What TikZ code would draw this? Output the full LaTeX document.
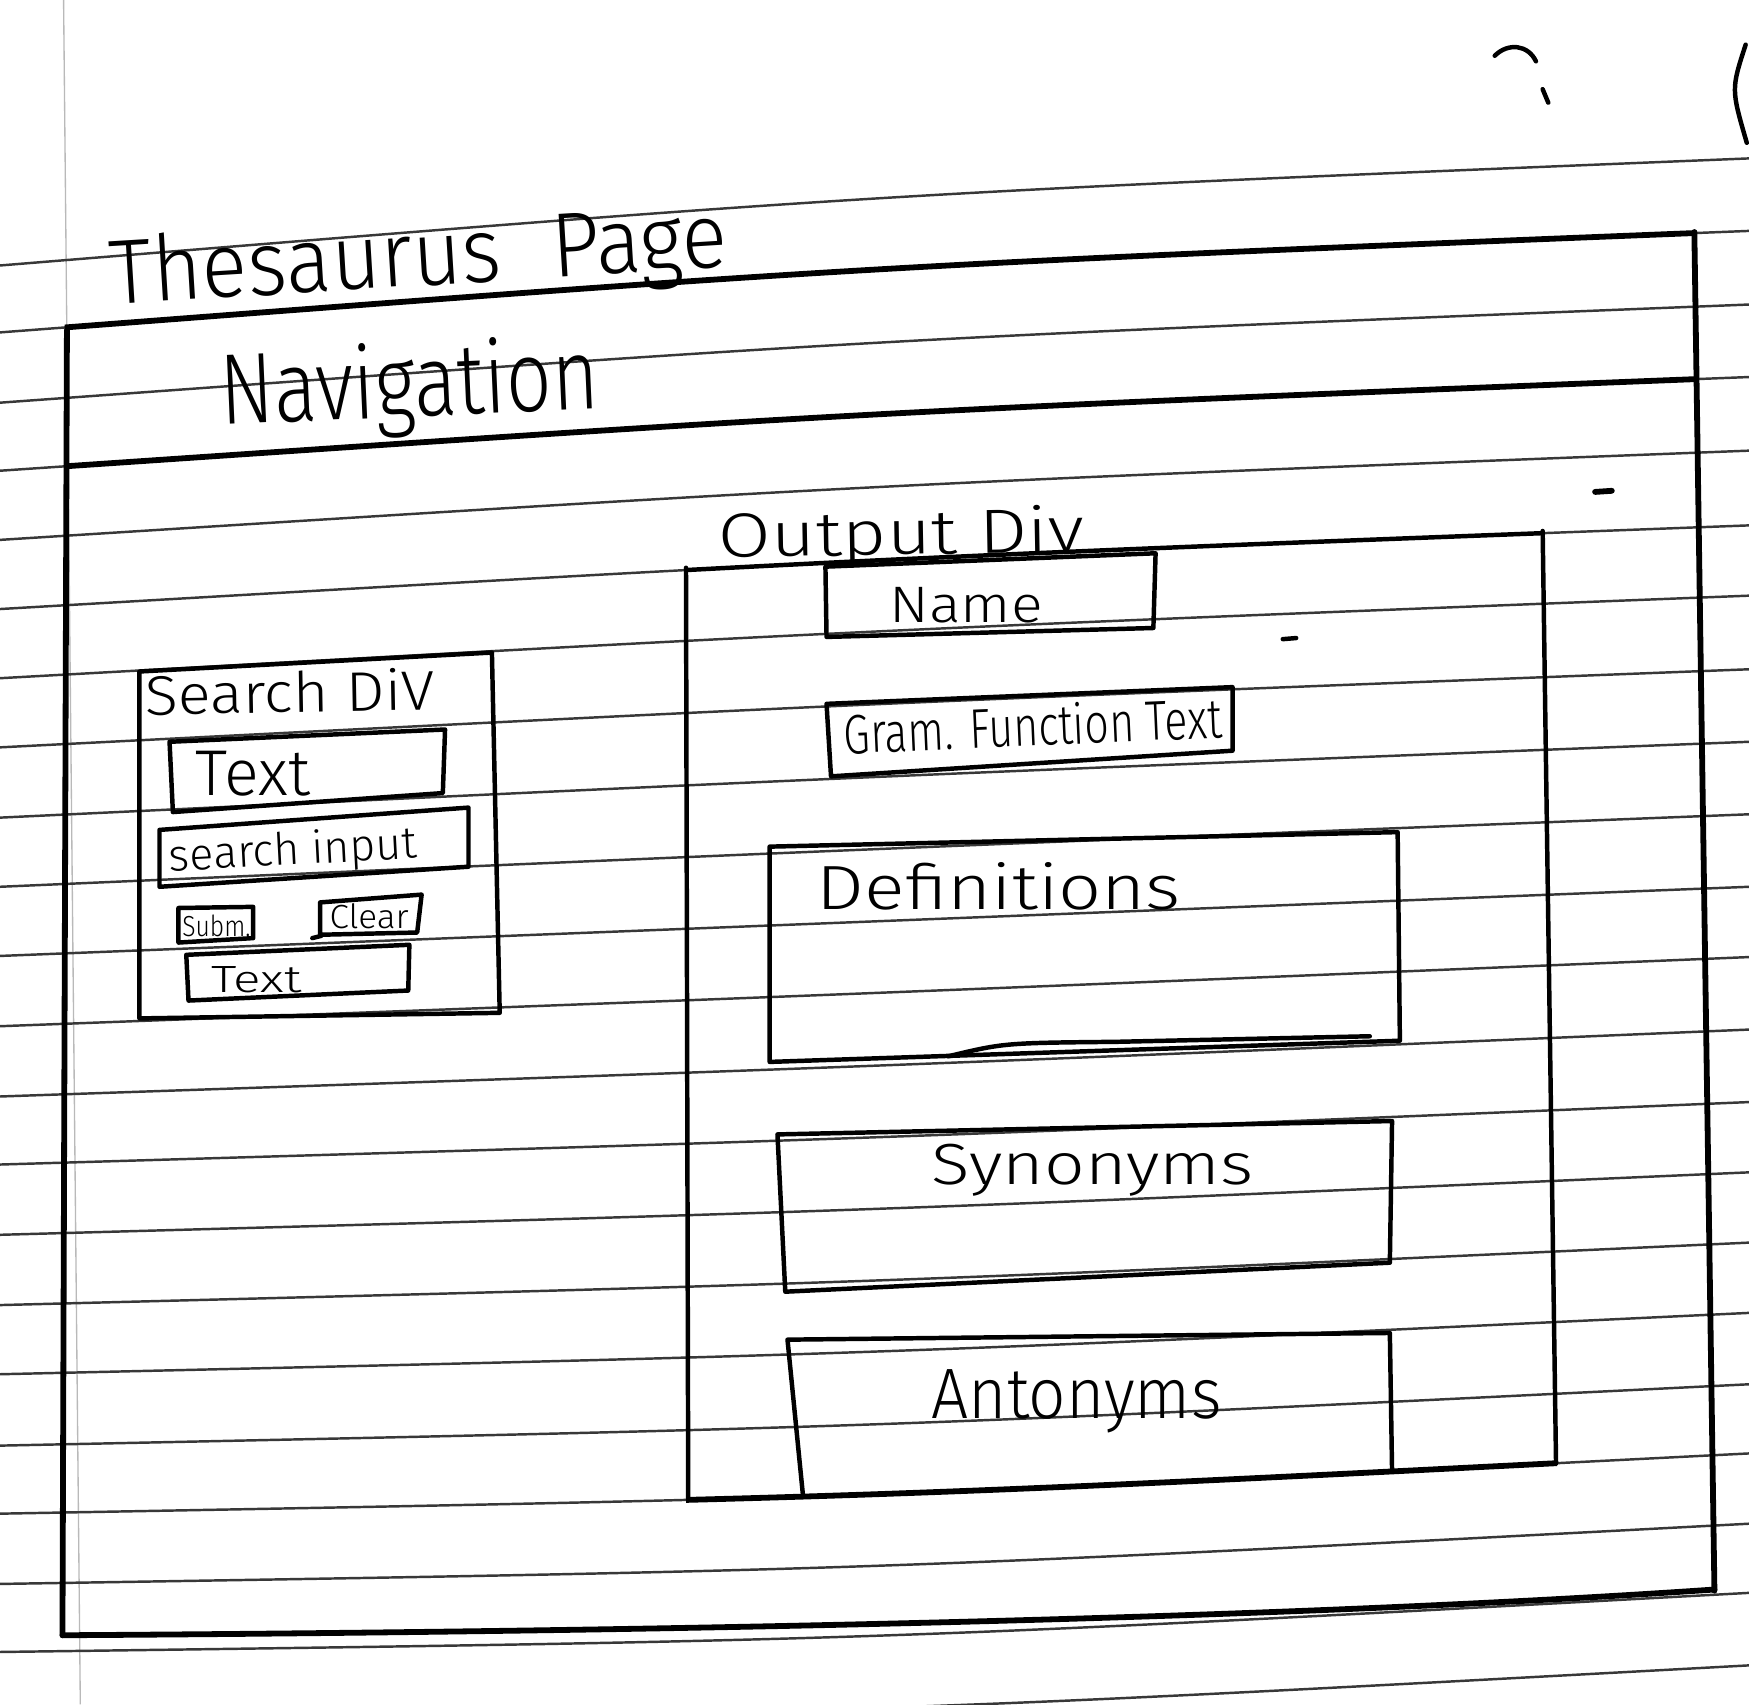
\documentclass[tikz,border=0pt]{standalone}
\usepackage{fontspec}
\newfontfamily\hand{Fira Sans Light}
% handwritten-style label: size, horizontal stretch, text
\newcommand\hwtext[3]{\fontsize{#1}{#1}\selectfont\scalebox{#2}[1]{#3}}
% a pen stroke that follows ruled line #1 (left y #2, right y #3) between x=#4 and x=#5
\newcommand\pencurve[6]{%
  \pgfmathsetmacro\plc{(#2+#3)/2-1.3333*(12-1.2*#1)}%
  \begin{scope}
    \clip (#4,-100) rectangle (#5,1700);
    \draw[#6] (0,#2) .. controls (784,\plc) .. (1568,#3);
  \end{scope}}
\begin{document}
\begin{tikzpicture}[x=0.5pt,y=-0.5pt,
  ruled/.style={line width=1.1pt, draw=black!78},
  margin/.style={line width=0.6pt, draw=gray!55},
  pen/.style={line width=2pt, draw=black, line join=round, line cap=round},
  heavypen/.style={line width=2.6pt, draw=black, line join=round, line cap=round},
  hw/.style={font=\hand, inner sep=0pt, text=black},
]
\useasboundingbox (0,0) rectangle (1568,1528);
\fill[white] (0,0) rectangle (1568,1528);

% ---------- ruled notebook paper ----------
\draw[margin] (57,0) -- (72,1528);
\foreach \k/\yl/\yr in {0/238/142, 1/298/207, 2/361/273, 3/422/338, 4/484/404,
    5/546/471, 6/608/534, 7/670/600, 8/733/665, 9/795/730, 10/857/795,
    11/920/858, 12/983/923, 13/1044/988, 14/1107/1051, 15/1170/1114,
    16/1232/1177, 17/1296/1241, 18/1357/1303, 19/1420/1366, 20/1481/1428,
    21/1543/1493}{
  \pgfmathsetmacro\plc{(\yl+\yr)/2-1.3333*(12-1.2*\k)}
  \draw[ruled] (0,\yl) .. controls (784,\plc) .. (1568,\yr);
}

% ---------- page frame ----------
\pencurve{1}{298}{207}{58}{1521}{heavypen}
\draw[heavypen] (60,296) -- (56,1466);
\draw[heavypen] (1519,208) -- (1537,1426);
\draw[heavypen] (56,1466) .. controls (700,1462) and (1200,1448) .. (1537,1425);
\node[hw, anchor=base west, rotate=3.5] (title) at (100,273)
  {\hwtext{41}{0.93}{Thesaurus\hspace{0.6em}Page}};

% ---------- navigation bar ----------
\pencurve{3}{422}{338}{62}{1520}{heavypen}
\node[hw, anchor=base west, rotate=2.5] (nav) at (198,381)
  {\hwtext{45}{0.8}{Navigation}};

% ---------- search div ----------
\draw[pen] (125,602) -- (441,585) -- (448,908) -- (125,913) -- cycle;
\node[hw, anchor=base west, rotate=1] (searchdiv) at (130,641)
  {\hwtext{25}{1.1}{Search DiV}};
\draw[pen] (152,665) -- (399,654) -- (397,711) -- (155,728) -- cycle;
\node[hw, anchor=base west] (text1) at (175,713) {\hwtext{29}{1.0}{Text}};
\draw[pen] (143,744) -- (420,724) -- (420,777) -- (143,795) -- cycle;
\node[hw, anchor=base west, rotate=3] (searchinput) at (152,781)
  {\hwtext{20}{1.0}{search input}};
\draw[pen] (160,814) -- (227,813) -- (227,841) -- (160,845) -- cycle;
\node[hw] (submit) at (194,830) {\hwtext{13}{0.85}{Subm.}};
\draw[pen] (287,809) -- (378,802) -- (374,836) -- (287,838) -- cycle;
\draw[pen] (280,841) -- (288,839);
\node[hw] (clear) at (331,821) {\hwtext{15}{1.05}{Clear}};
\draw[pen] (167,856) -- (367,847) -- (366,888) -- (169,897) -- cycle;
\node[hw, anchor=base west] (text2) at (189,890) {\hwtext{17}{1.35}{Text}};

% ---------- output div ----------
\pencurve{5}{546}{471}{614}{1384}{pen}
\draw[pen] (615,509) -- (617,1345);
\draw[pen] (1383,476) -- (1395,1312);
\pencurve{18}{1357}{1303}{615}{1396}{heavypen}
\node[hw, anchor=base west, rotate=1] (outputdiv) at (644,500)
  {\hwtext{28}{1.23}{Output Div}};

\draw[pen] (740,508) -- (1036,496) -- (1034,563) -- (741,571) -- cycle;
\node[hw, anchor=base west] (name) at (797,558) {\hwtext{23}{1.15}{Name}};

\draw[pen] (741,631) -- (1105,616) -- (1105,673) -- (745,696) -- cycle;
\node[hw, anchor=base west, rotate=2.5] (gram) at (757,676)
  {\hwtext{25}{0.77}{Gram. Function Text}};

\draw[pen] (690,759) -- (1253,746) -- (1255,933) -- (690,952) -- cycle;
\draw[pen] (850,947) .. controls (900,935) .. (1000,934) -- (1228,929);
\node[hw, anchor=base west] (definitions) at (732,815)
  {\hwtext{28}{1.21}{Definitions}};

\draw[pen] (697,1017) -- (1248,1005) -- (1246,1132) -- (704,1158) -- cycle;
\node[hw, anchor=base west] (synonyms) at (835,1062)
  {\hwtext{26}{1.23}{Synonyms}};

\draw[pen] (720,1342) -- (706,1201) -- (1246,1195) -- (1248,1319);
\node[hw, anchor=base west] (antonyms) at (835,1272)
  {\hwtext{32}{0.92}{Antonyms}};

% ---------- stray pen marks ----------
\draw[heavypen] (1430,441) -- (1445,440);
\draw[pen] (1150,573) -- (1162,572);
\draw[pen] (1340,50) .. controls (1352,38) and (1370,40) .. (1377,55);
\draw[pen] (1383,80) -- (1388,92);
\draw[pen] (1565,40) .. controls (1552,80) .. (1566,128);
\end{tikzpicture}
\end{document}
